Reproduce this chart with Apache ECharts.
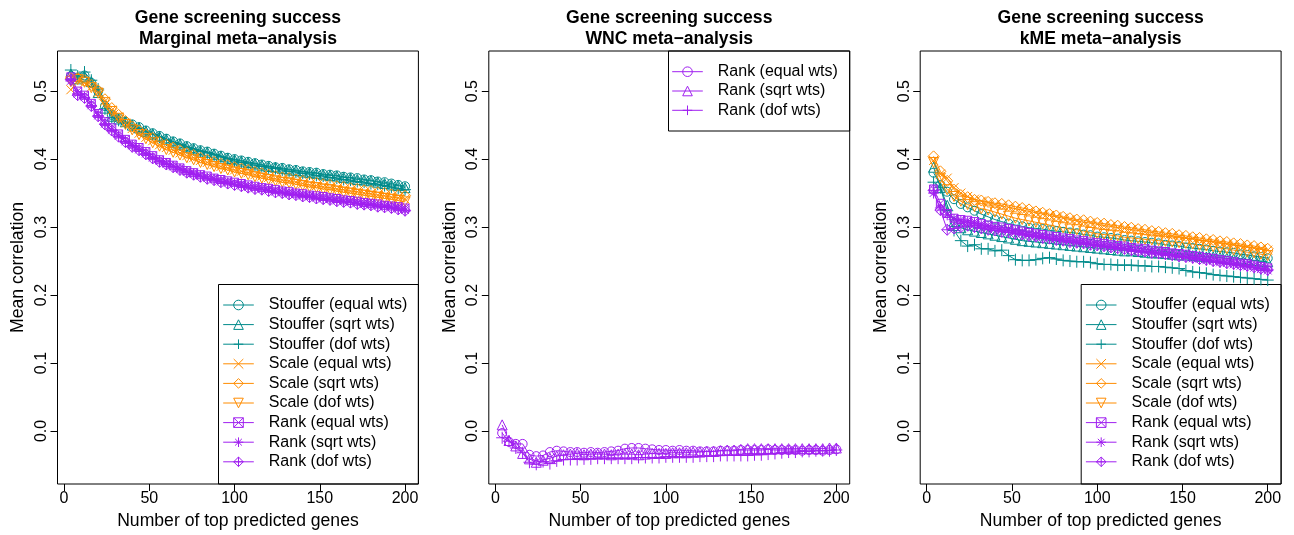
<!DOCTYPE html>
<html><head><meta charset="utf-8">
<script src="https://cdn.jsdelivr.net/npm/echarts@6/dist/echarts.min.js"></script>
<style>html,body{margin:0;padding:0;background:#fff}#c{width:1294px;height:535px}</style>
</head><body><div id="c"></div>
<script>
// ---------- data ----------
const GENES = [4,8,12,16,20,24,28,32,36,40,44,48,52,56,60,64,68,72,76,80,84,88,92,96,100,104,108,112,116,120,124,128,132,136,140,144,148,152,156,160,164,168,172,176,180,184,188,192,196,200];
const X_TICKS = [0,50,100,150,200];
const Y_TICKS = [0,0.1,0.2,0.3,0.4,0.5];
const TITLE_TOP = 'Gene screening success';
const PANEL_TITLES = ['Marginal meta\u2212analysis','WNC meta\u2212analysis','kME meta\u2212analysis'];
const X_NAME = 'Number of top predicted genes';
const Y_NAME = 'Mean correlation';

// Marginal meta-analysis
const M_STOUFFER_EQUAL = [0.522,0.520,0.523,0.512,0.500,0.478,0.465,0.460,0.455,0.451,0.447,0.442,0.438,0.434,0.430,0.426,0.423,0.419,0.416,0.413,0.411,0.408,0.405,0.402,0.400,0.398,0.396,0.394,0.392,0.390,0.388,0.387,0.385,0.384,0.382,0.381,0.380,0.378,0.377,0.376,0.374,0.373,0.372,0.370,0.369,0.367,0.366,0.364,0.362,0.360];
const M_STOUFFER_SQRT = [0.525,0.518,0.521,0.514,0.498,0.475,0.463,0.459,0.455,0.450,0.446,0.441,0.437,0.433,0.429,0.425,0.422,0.418,0.415,0.412,0.410,0.407,0.404,0.401,0.399,0.397,0.395,0.393,0.391,0.389,0.388,0.386,0.384,0.383,0.381,0.380,0.379,0.377,0.376,0.375,0.373,0.372,0.370,0.369,0.368,0.366,0.364,0.362,0.361,0.358];
const M_STOUFFER_DOF = [0.531,0.522,0.528,0.516,0.503,0.474,0.461,0.457,0.453,0.449,0.445,0.440,0.436,0.432,0.428,0.424,0.421,0.417,0.414,0.411,0.409,0.406,0.403,0.400,0.397,0.395,0.393,0.391,0.389,0.387,0.386,0.384,0.382,0.381,0.379,0.378,0.376,0.375,0.373,0.372,0.370,0.369,0.367,0.366,0.364,0.363,0.361,0.359,0.357,0.355];
const M_SCALE_EQUAL = [0.502,0.515,0.512,0.506,0.498,0.485,0.472,0.462,0.453,0.445,0.438,0.432,0.427,0.421,0.417,0.413,0.409,0.405,0.402,0.398,0.395,0.392,0.389,0.387,0.384,0.382,0.380,0.377,0.375,0.373,0.371,0.369,0.368,0.366,0.364,0.362,0.361,0.359,0.358,0.356,0.355,0.353,0.352,0.350,0.349,0.347,0.346,0.344,0.343,0.341];
const M_SCALE_SQRT = [0.519,0.519,0.516,0.509,0.501,0.488,0.475,0.465,0.456,0.448,0.442,0.436,0.431,0.425,0.421,0.417,0.413,0.409,0.406,0.402,0.399,0.396,0.393,0.391,0.388,0.386,0.384,0.381,0.379,0.377,0.375,0.373,0.372,0.370,0.368,0.366,0.365,0.363,0.362,0.360,0.359,0.357,0.356,0.354,0.353,0.351,0.350,0.348,0.347,0.346];
const M_SCALE_DOF = [0.514,0.517,0.513,0.505,0.497,0.483,0.470,0.460,0.451,0.443,0.436,0.430,0.424,0.419,0.414,0.410,0.406,0.402,0.399,0.395,0.392,0.389,0.386,0.384,0.381,0.379,0.377,0.374,0.372,0.370,0.368,0.366,0.365,0.363,0.361,0.359,0.358,0.356,0.355,0.353,0.351,0.350,0.348,0.347,0.345,0.344,0.342,0.341,0.339,0.337];
const M_RANK_EQUAL = [0.521,0.500,0.494,0.482,0.467,0.455,0.446,0.437,0.429,0.422,0.417,0.411,0.405,0.399,0.395,0.391,0.387,0.383,0.380,0.377,0.375,0.372,0.370,0.368,0.366,0.364,0.362,0.360,0.358,0.357,0.355,0.353,0.352,0.350,0.349,0.347,0.346,0.345,0.343,0.342,0.340,0.339,0.338,0.336,0.335,0.334,0.332,0.331,0.330,0.328];
const M_RANK_SQRT = [0.515,0.496,0.491,0.479,0.464,0.452,0.443,0.434,0.426,0.420,0.414,0.408,0.402,0.397,0.393,0.389,0.385,0.381,0.378,0.375,0.372,0.370,0.367,0.365,0.363,0.361,0.359,0.357,0.356,0.354,0.352,0.351,0.349,0.348,0.346,0.345,0.343,0.342,0.341,0.339,0.338,0.337,0.335,0.334,0.333,0.331,0.330,0.329,0.327,0.325];
const M_RANK_DOF = [0.517,0.494,0.490,0.478,0.463,0.451,0.442,0.433,0.425,0.418,0.413,0.407,0.401,0.396,0.392,0.388,0.384,0.380,0.377,0.374,0.371,0.369,0.366,0.364,0.362,0.360,0.358,0.356,0.355,0.353,0.351,0.350,0.348,0.347,0.345,0.344,0.342,0.341,0.340,0.338,0.337,0.336,0.334,0.333,0.332,0.330,0.329,0.328,0.326,0.324];

// WNC meta-analysis
const W_RANK_EQUAL = [-0.003,-0.016,-0.019,-0.019,-0.035,-0.037,-0.036,-0.031,-0.029,-0.030,-0.031,-0.031,-0.032,-0.031,-0.032,-0.031,-0.030,-0.029,-0.026,-0.025,-0.025,-0.026,-0.027,-0.028,-0.028,-0.029,-0.028,-0.029,-0.029,-0.030,-0.030,-0.030,-0.029,-0.029,-0.029,-0.028,-0.028,-0.028,-0.028,-0.027,-0.028,-0.028,-0.028,-0.028,-0.029,-0.028,-0.028,-0.029,-0.028,-0.027];
const W_RANK_SQRT = [0.009,-0.014,-0.022,-0.033,-0.041,-0.046,-0.043,-0.040,-0.037,-0.035,-0.034,-0.033,-0.035,-0.034,-0.034,-0.034,-0.035,-0.034,-0.034,-0.034,-0.035,-0.034,-0.033,-0.033,-0.033,-0.032,-0.032,-0.032,-0.031,-0.031,-0.030,-0.030,-0.029,-0.028,-0.028,-0.027,-0.026,-0.026,-0.026,-0.026,-0.026,-0.026,-0.026,-0.026,-0.026,-0.026,-0.026,-0.026,-0.025,-0.025];
const W_RANK_DOF = [-0.010,-0.015,-0.025,-0.032,-0.046,-0.049,-0.045,-0.048,-0.044,-0.042,-0.042,-0.042,-0.041,-0.041,-0.040,-0.040,-0.040,-0.040,-0.040,-0.040,-0.039,-0.039,-0.039,-0.039,-0.038,-0.038,-0.038,-0.038,-0.038,-0.037,-0.037,-0.037,-0.036,-0.036,-0.036,-0.036,-0.036,-0.035,-0.035,-0.034,-0.033,-0.032,-0.031,-0.031,-0.030,-0.030,-0.029,-0.029,-0.029,-0.028];

// kME meta-analysis
const K_STOUFFER_EQUAL = [0.380,0.362,0.352,0.341,0.334,0.329,0.324,0.319,0.315,0.311,0.308,0.305,0.303,0.301,0.299,0.298,0.297,0.295,0.294,0.293,0.292,0.291,0.289,0.288,0.286,0.285,0.284,0.283,0.281,0.280,0.279,0.278,0.277,0.276,0.274,0.273,0.272,0.270,0.269,0.268,0.267,0.265,0.264,0.263,0.262,0.260,0.259,0.257,0.256,0.254];
const K_STOUFFER_SQRT = [0.388,0.358,0.332,0.308,0.299,0.296,0.294,0.292,0.290,0.288,0.286,0.284,0.282,0.280,0.279,0.278,0.277,0.276,0.275,0.274,0.273,0.272,0.271,0.270,0.269,0.268,0.267,0.266,0.265,0.265,0.264,0.263,0.262,0.262,0.261,0.260,0.259,0.259,0.258,0.257,0.256,0.256,0.255,0.254,0.253,0.253,0.252,0.251,0.250,0.249];
const K_STOUFFER_DOF = [0.366,0.358,0.324,0.295,0.280,0.272,0.274,0.268,0.268,0.265,0.266,0.258,0.252,0.251,0.251,0.252,0.254,0.255,0.253,0.251,0.250,0.249,0.249,0.248,0.246,0.245,0.245,0.244,0.244,0.244,0.243,0.243,0.242,0.242,0.241,0.240,0.239,0.236,0.234,0.233,0.232,0.230,0.229,0.228,0.227,0.226,0.225,0.224,0.223,0.222];
const K_SCALE_EQUAL = [0.398,0.378,0.372,0.358,0.350,0.345,0.341,0.338,0.336,0.333,0.331,0.329,0.327,0.325,0.323,0.321,0.319,0.317,0.315,0.313,0.311,0.309,0.307,0.306,0.304,0.302,0.301,0.299,0.298,0.296,0.295,0.293,0.292,0.290,0.289,0.287,0.286,0.284,0.283,0.281,0.280,0.278,0.277,0.275,0.274,0.272,0.271,0.269,0.268,0.266];
const K_SCALE_SQRT = [0.404,0.382,0.368,0.355,0.347,0.344,0.340,0.339,0.337,0.335,0.334,0.332,0.330,0.328,0.326,0.323,0.321,0.319,0.317,0.315,0.313,0.311,0.310,0.308,0.306,0.305,0.303,0.302,0.300,0.299,0.297,0.296,0.294,0.293,0.291,0.290,0.288,0.287,0.285,0.284,0.282,0.281,0.279,0.278,0.276,0.275,0.273,0.272,0.270,0.268];
const K_SCALE_DOF = [0.395,0.372,0.355,0.345,0.338,0.333,0.330,0.327,0.325,0.322,0.319,0.316,0.313,0.311,0.309,0.307,0.305,0.303,0.301,0.299,0.297,0.296,0.294,0.292,0.290,0.289,0.288,0.287,0.285,0.284,0.283,0.282,0.281,0.280,0.279,0.278,0.277,0.276,0.275,0.273,0.272,0.271,0.269,0.268,0.266,0.265,0.263,0.262,0.260,0.258];
const K_RANK_EQUAL = [0.356,0.335,0.320,0.313,0.311,0.310,0.308,0.305,0.303,0.301,0.300,0.298,0.296,0.294,0.292,0.290,0.289,0.287,0.286,0.284,0.283,0.281,0.280,0.278,0.277,0.276,0.274,0.273,0.272,0.270,0.269,0.268,0.266,0.265,0.264,0.262,0.261,0.260,0.258,0.257,0.255,0.254,0.252,0.251,0.249,0.247,0.246,0.244,0.242,0.240];
const K_RANK_SQRT = [0.350,0.328,0.318,0.311,0.309,0.307,0.305,0.302,0.300,0.298,0.296,0.295,0.293,0.291,0.289,0.288,0.286,0.284,0.283,0.281,0.280,0.278,0.277,0.275,0.274,0.272,0.271,0.270,0.268,0.267,0.265,0.264,0.263,0.261,0.260,0.258,0.257,0.256,0.254,0.253,0.251,0.250,0.248,0.247,0.245,0.243,0.242,0.240,0.238,0.236];
const K_RANK_DOF = [0.354,0.325,0.296,0.298,0.300,0.302,0.300,0.298,0.296,0.295,0.293,0.292,0.290,0.289,0.287,0.286,0.284,0.283,0.281,0.280,0.278,0.277,0.276,0.274,0.273,0.272,0.270,0.269,0.268,0.266,0.265,0.264,0.262,0.261,0.260,0.259,0.257,0.256,0.255,0.253,0.252,0.250,0.249,0.247,0.246,0.244,0.243,0.241,0.239,0.237];

// ---------- style ----------
const FONT = '"Liberation Sans", Arial, Helvetica, sans-serif';
const TEAL = '#008B8B', ORANGE = '#FF8C00', PURPLE = '#A020F0';
const SYM = {
  circle: ['circle', 9],
  triangle: ['triangle', 10],
  plus: ['path://M5,0L5,10M0,5L10,5', 12],
  cross: ['path://M0,0L10,10M10,0L0,10', 9],
  diamond: ['diamond', 11],
  down: ['path://M0,0L10,0L5,8.7Z', 10],
  boxx: ['path://M0,0L10,0L10,10L0,10ZM0,0L10,10M10,0L0,10', 8],
  star: ['path://M5,0L5,10M0,5L10,5M1.5,1.5L8.5,8.5M8.5,1.5L1.5,8.5', 11],
  dplus: ['path://M5,0L10,5L5,10L0,5ZM5,0L5,10M0,5L10,5', 11]
};

const GRID_LEFT = [57.5, 488.8, 920.2];
const GRID_W = 360.9, GRID_TOP = 51, GRID_H = 433;
const XMIN = -3.84, XMAX = 207.84, YMIN = -0.078, YMAX = 0.559;

function mk(name, vals, g, color, sym) {
  return {
    type: 'line', name: name, xAxisIndex: g, yAxisIndex: g,
    data: GENES.map((x, i) => [x, vals[i]]),
    symbol: SYM[sym][0], symbolSize: SYM[sym][1],
    showAllSymbol: true, clip: false,
    lineStyle: { color: color, width: 1 },
    itemStyle: { color: 'rgba(255,255,255,0)', borderColor: color, borderWidth: 1 },
    emphasis: { disabled: true }, silent: true, animation: false
  };
}

const S = ' ', SS = '  ';
const series = [
  mk('Stouffer (equal wts)', M_STOUFFER_EQUAL, 0, TEAL, 'circle'),
  mk('Stouffer (sqrt wts)', M_STOUFFER_SQRT, 0, TEAL, 'triangle'),
  mk('Stouffer (dof wts)', M_STOUFFER_DOF, 0, TEAL, 'plus'),
  mk('Scale (equal wts)', M_SCALE_EQUAL, 0, ORANGE, 'cross'),
  mk('Scale (sqrt wts)', M_SCALE_SQRT, 0, ORANGE, 'diamond'),
  mk('Scale (dof wts)', M_SCALE_DOF, 0, ORANGE, 'down'),
  mk('Rank (equal wts)', M_RANK_EQUAL, 0, PURPLE, 'boxx'),
  mk('Rank (sqrt wts)', M_RANK_SQRT, 0, PURPLE, 'star'),
  mk('Rank (dof wts)', M_RANK_DOF, 0, PURPLE, 'dplus'),

  mk('Rank (equal wts)' + SS, W_RANK_EQUAL, 1, PURPLE, 'circle'),
  mk('Rank (sqrt wts)' + SS, W_RANK_SQRT, 1, PURPLE, 'triangle'),
  mk('Rank (dof wts)' + SS, W_RANK_DOF, 1, PURPLE, 'plus'),

  mk('Stouffer (equal wts)' + S, K_STOUFFER_EQUAL, 2, TEAL, 'circle'),
  mk('Stouffer (sqrt wts)' + S, K_STOUFFER_SQRT, 2, TEAL, 'triangle'),
  mk('Stouffer (dof wts)' + S, K_STOUFFER_DOF, 2, TEAL, 'plus'),
  mk('Scale (equal wts)' + S, K_SCALE_EQUAL, 2, ORANGE, 'cross'),
  mk('Scale (sqrt wts)' + S, K_SCALE_SQRT, 2, ORANGE, 'diamond'),
  mk('Scale (dof wts)' + S, K_SCALE_DOF, 2, ORANGE, 'down'),
  mk('Rank (equal wts)' + S, K_RANK_EQUAL, 2, PURPLE, 'boxx'),
  mk('Rank (sqrt wts)' + S, K_RANK_SQRT, 2, PURPLE, 'star'),
  mk('Rank (dof wts)' + S, K_RANK_DOF, 2, PURPLE, 'dplus')
];

const grids = [], xAxes = [], yAxes = [], titles = [];
for (let g = 0; g < 3; g++) {
  grids.push({ left: GRID_LEFT[g], top: GRID_TOP, width: GRID_W, height: GRID_H, show: true, borderColor: '#000', borderWidth: 1, backgroundColor: 'transparent', containLabel: false });
  xAxes.push({
    type: 'value', gridIndex: g, min: XMIN, max: XMAX, position: 'bottom',
    axisLine: { show: false, onZero: false }, splitLine: { show: false },
    axisTick: { show: true, length: 7, lineStyle: { color: '#000', width: 1 }, customValues: X_TICKS },
    axisLabel: { customValues: X_TICKS, fontSize: 16, color: '#000', fontFamily: FONT, margin: 7 },
    name: X_NAME, nameLocation: 'middle', nameGap: 28,
    nameTextStyle: { fontSize: 17.6, color: '#000', fontFamily: FONT }
  });
  yAxes.push({
    type: 'value', gridIndex: g, min: YMIN, max: YMAX, position: 'left',
    axisLine: { show: false, onZero: false }, splitLine: { show: false },
    axisTick: { show: true, length: 7, lineStyle: { color: '#000', width: 1 }, customValues: Y_TICKS },
    axisLabel: { customValues: Y_TICKS, rotate: 90, fontSize: 16, color: '#000', fontFamily: FONT, margin: 8,
                 formatter: v => v.toFixed(1) },
    name: Y_NAME, nameLocation: 'middle', nameGap: 30,
    nameTextStyle: { fontSize: 17.6, color: '#000', fontFamily: FONT }
  });
  titles.push({
    text: TITLE_TOP + '\n' + PANEL_TITLES[g],
    left: GRID_LEFT[g] + GRID_W / 2, top: 8, textAlign: 'center', padding: 0,
    textStyle: { fontSize: 17.6, fontWeight: 'bold', color: '#000', fontFamily: FONT, lineHeight: 21 }
  });
}

const legendBase = {
  orient: 'vertical', itemWidth: 30.6, itemHeight: 12, itemGap: 3.6, padding: 0,
  selectedMode: false, formatter: n => n.trim(),
  lineStyle: { width: 1 },
  itemStyle: { borderWidth: 1 },
  textStyle: { fontSize: 16, color: '#000', fontFamily: FONT, padding: [0, 0, 0, 10] }
};
const names1 = series.slice(0, 9).map(s => s.name);
const names2 = series.slice(9, 12).map(s => s.name);
const names3 = series.slice(12).map(s => s.name);
const legends = [
  Object.assign({}, legendBase, { data: names1, left: 222.7, top: 297 }),
  Object.assign({}, legendBase, { data: names2, left: 671.7, top: 63.7, itemGap: 3.3 }),
  Object.assign({}, legendBase, { data: names3, left: 222.7 + (GRID_LEFT[2] - GRID_LEFT[0]), top: 297 })
];

const boxStyle = { stroke: '#000', lineWidth: 1, fill: 'none' };
const graphic = [
  { type: 'rect', shape: { x: 218.5, y: 284.5, width: GRID_LEFT[0] + GRID_W - 218.5, height: GRID_TOP + GRID_H - 284.5 }, style: boxStyle, silent: true },
  { type: 'rect', shape: { x: 668.5, y: GRID_TOP, width: GRID_LEFT[1] + GRID_W - 668.5, height: 80 }, style: boxStyle, silent: true },
  { type: 'rect', shape: { x: 218.5 + (GRID_LEFT[2] - GRID_LEFT[0]), y: 284.5, width: GRID_LEFT[0] + GRID_W - 218.5, height: GRID_TOP + GRID_H - 284.5 }, style: boxStyle, silent: true }
];

const chart = echarts.init(document.getElementById('c'), null, { renderer: 'canvas' });
chart.setOption({
  backgroundColor: '#fff', animation: false,
  title: titles, grid: grids, xAxis: xAxes, yAxis: yAxes,
  legend: legends, graphic: graphic, series: series
});
</script></body></html>
